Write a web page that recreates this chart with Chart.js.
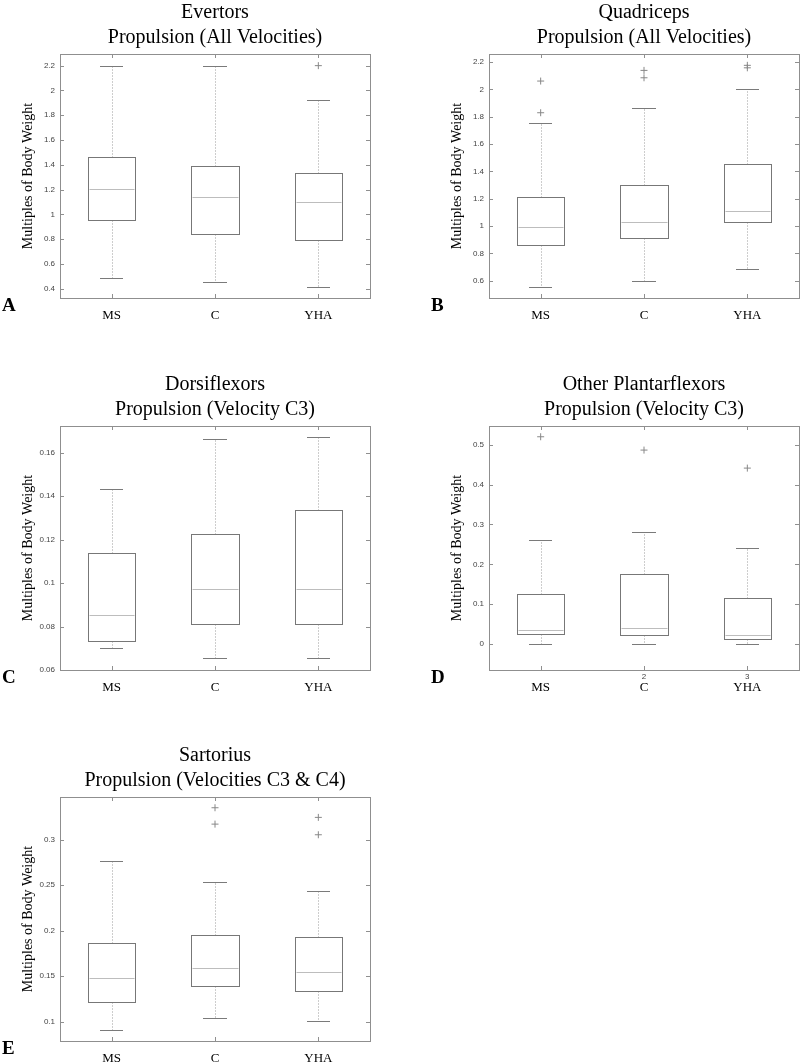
<!DOCTYPE html>
<html>
<head>
<meta charset="utf-8">
<script src="https://cdn.jsdelivr.net/npm/chart.js@4.4.0/dist/chart.umd.min.js"></script>
<style>
  html, body { margin: 0; padding: 0; background: #fff; overflow: hidden; }
  body { width: 800px; height: 1064px; position: relative; }
  canvas { position: absolute; }
</style>
</head>
<body>
<canvas id="chartA" width="400" height="330" style="left:0;top:0"></canvas>
<canvas id="chartB" width="371" height="330" style="left:429px;top:0"></canvas>
<canvas id="chartC" width="400" height="330" style="left:0;top:372px"></canvas>
<canvas id="chartD" width="371" height="330" style="left:429px;top:372px"></canvas>
<canvas id="chartE" width="400" height="330" style="left:0;top:743px"></canvas>
<script>
var groups = ["MS", "C", "YHA"];
var yAxisLabel = "Multiples of Body Weight";

// A - Evertors
var evertorsTitle = ["Evertors", "Propulsion (All Velocities)"];
var evertorsLow = [0.485, 0.458, 0.413];
var evertorsQ1 = [0.956, 0.843, 0.794];
var evertorsMedian = [1.208, 1.144, 1.103];
var evertorsQ3 = [1.461, 1.391, 1.337];
var evertorsHigh = [2.2, 2.198, 1.923];
var evertorsOutliers = [[], [], [2.2]];
var evertorsTicks = [0.4, 0.6, 0.8, 1, 1.2, 1.4, 1.6, 1.8, 2, 2.2];

// B - Quadriceps
var quadTitle = ["Quadriceps", "Propulsion (All Velocities)"];
var quadLow = [0.552, 0.6, 0.683];
var quadQ1 = [0.859, 0.913, 1.027];
var quadMedian = [0.991, 1.027, 1.108];
var quadQ3 = [1.215, 1.298, 1.452];
var quadHigh = [1.756, 1.861, 2.0];
var quadOutliers = [[2.061, 1.829], [2.139, 2.085], [2.176, 2.158]];
var quadTicks = [0.6, 0.8, 1, 1.2, 1.4, 1.6, 1.8, 2, 2.2];

// C - Dorsiflexors
var dorsiTitle = ["Dorsiflexors", "Propulsion (Velocity C3)"];
var dorsiLow = [0.0699, 0.0655, 0.0655];
var dorsiQ1 = [0.0732, 0.0811, 0.0811];
var dorsiMedian = [0.0854, 0.0972, 0.0972];
var dorsiQ3 = [0.114, 0.1227, 0.1337];
var dorsiHigh = [0.1433, 0.166, 0.1672];
var dorsiOutliers = [[], [], []];
var dorsiTicks = [0.06, 0.08, 0.1, 0.12, 0.14, 0.16];

// D - Other Plantarflexors
var plantarTitle = ["Other Plantarflexors", "Propulsion (Velocity C3)"];
var plantarLow = [0, 0, 0];
var plantarQ1 = [0.0243, 0.0226, 0.0117];
var plantarMedian = [0.035, 0.0393, 0.0226];
var plantarQ3 = [0.1247, 0.1748, 0.1146];
var plantarHigh = [0.26, 0.2817, 0.2416];
var plantarOutliers = [[0.52], [0.4866], [0.4414]];
var plantarTicks = [0, 0.1, 0.2, 0.3, 0.4, 0.5];
var plantarExtraTicks = ["", "2", "3"];

// E - Sartorius
var sartTitle = ["Sartorius", "Propulsion (Velocities C3 & C4)"];
var sartLow = [0.0905, 0.1044, 0.1004];
var sartQ1 = [0.122, 0.1396, 0.134];
var sartMedian = [0.1483, 0.1586, 0.1549];
var sartQ3 = [0.1864, 0.1956, 0.1934];
var sartHigh = [0.2762, 0.2532, 0.244];
var sartOutliers = [[], [0.3352, 0.3172], [0.3246, 0.3055]];
var sartTicks = [0.1, 0.15, 0.2, 0.25, 0.3];

const SERIF = "'Liberation Serif', 'Times New Roman', serif";
const SANS = "'Liberation Sans', Arial, sans-serif";

function px(v) { return Math.round(v) + 0.5; }

// draws frame, inner ticks, boxes and whiskers using the chart scales
const boxPlot = {
  id: 'boxPlot',
  beforeDatasetsDraw(chart, args, o) {
    const ctx = chart.ctx;
    const xs = chart.scales.x, ys = chart.scales.y;
    const a = chart.chartArea;
    ctx.save();
    ctx.lineWidth = 1;

    // frame
    ctx.strokeStyle = '#8f8f8f';
    ctx.strokeRect(px(a.left), px(a.top), Math.round(a.right - a.left), Math.round(a.bottom - a.top));

    // inner tick marks (matlab style)
    ctx.beginPath();
    ys.ticks.forEach(t => {
      const y = px(ys.getPixelForValue(t.value));
      ctx.moveTo(a.left, y); ctx.lineTo(a.left + 4, y);
      ctx.moveTo(a.right - 4, y); ctx.lineTo(a.right, y);
    });
    xs.ticks.forEach(t => {
      const x = px(xs.getPixelForValue(t.value));
      ctx.moveTo(x, a.bottom); ctx.lineTo(x, a.bottom - 4);
      ctx.moveTo(x, a.top); ctx.lineTo(x, a.top + 4);
    });
    ctx.stroke();

    for (let i = 0; i < groups.length; i++) {
      const xc = xs.getPixelForValue(i + 1);
      const hb = xs.getPixelForValue(i + 1 + 0.23) - xc;
      const hc = xs.getPixelForValue(i + 1 + 0.113) - xc;
      const yLow = px(ys.getPixelForValue(o.low[i]));
      const yQ1 = px(ys.getPixelForValue(o.q1[i]));
      const yMed = px(ys.getPixelForValue(o.median[i]));
      const yQ3 = px(ys.getPixelForValue(o.q3[i]));
      const yHigh = px(ys.getPixelForValue(o.high[i]));
      const xm = px(xc);

      // whiskers
      ctx.strokeStyle = '#9a9a9a';
      ctx.setLineDash([1, 2]);
      ctx.beginPath();
      ctx.moveTo(xm, yQ3); ctx.lineTo(xm, yHigh);
      ctx.moveTo(xm, yQ1); ctx.lineTo(xm, yLow);
      ctx.stroke();
      ctx.setLineDash([]);

      // caps
      ctx.strokeStyle = '#7a7a7a';
      ctx.beginPath();
      ctx.moveTo(Math.round(xc - hc), yHigh); ctx.lineTo(Math.round(xc + hc), yHigh);
      ctx.moveTo(Math.round(xc - hc), yLow); ctx.lineTo(Math.round(xc + hc), yLow);
      ctx.stroke();

      // box
      const l = px(xc - hb), r = px(xc + hb);
      ctx.fillStyle = '#fff';
      ctx.fillRect(l, yQ3, r - l, yQ1 - yQ3);
      ctx.strokeStyle = '#777';
      ctx.strokeRect(l, yQ3, r - l, yQ1 - yQ3);

      // median
      ctx.strokeStyle = '#bdbdbd';
      ctx.beginPath();
      ctx.moveTo(l + 1, yMed); ctx.lineTo(r - 1, yMed);
      ctx.stroke();
    }

    // stray tick numbers under the axis
    if (o.extraTicks) {
      ctx.fillStyle = '#444';
      ctx.font = '8px ' + SANS;
      ctx.textAlign = 'center';
      ctx.textBaseline = 'top';
      o.extraTicks.forEach((s, i) => {
        if (s) ctx.fillText(s, xs.getPixelForValue(i + 1), a.bottom + 3);
      });
    }
    ctx.restore();
  },
  afterDraw(chart, args, o) {
    const ctx = chart.ctx;
    ctx.save();
    ctx.fillStyle = '#000';
    ctx.font = 'bold 19px ' + SERIF;
    ctx.textAlign = 'left';
    ctx.textBaseline = 'alphabetic';
    ctx.fillText(o.letter, 2, 311);
    ctx.restore();
  }
};

function makePanel(id, letter, padRight, title, yMin, yMax, yTicks, low, q1, median, q3, high, outliers, extraTicks) {
  const points = [];
  outliers.forEach((vals, i) => vals.forEach(v => points.push({ x: i + 1, y: v })));
  new Chart(id, {
    type: 'scatter',
    data: {
      datasets: [{
        data: points,
        pointStyle: 'cross',
        radius: 3.5,
        borderColor: '#888',
        borderWidth: 1,
        backgroundColor: '#888'
      }]
    },
    options: {
      responsive: false,
      animation: false,
      events: [],
      layout: { autoPadding: false, padding: { top: 0, left: 0, right: padRight, bottom: 0 } },
      plugins: {
        legend: { display: false },
        tooltip: { enabled: false },
        title: {
          display: true,
          text: title,
          fullSize: false,
          color: '#000',
          font: { family: SERIF, size: 20, weight: 'normal', lineHeight: 1.25 },
          padding: { top: 0, bottom: 4 }
        },
        boxPlot: {
          letter: letter, low: low, q1: q1, median: median, q3: q3, high: high,
          extraTicks: extraTicks
        }
      },
      scales: {
        x: {
          type: 'linear',
          min: 0.5,
          max: 3.5,
          afterBuildTicks: axis => { axis.ticks = [1, 2, 3].map(v => ({ value: v })); },
          afterFit: scale => { scale.height = 32; },
          grid: { display: false, drawTicks: false },
          border: { display: false },
          ticks: {
            padding: 10,
            color: '#000',
            font: { family: SERIF, size: 13 },
            maxRotation: 0,
            callback: v => groups[v - 1]
          }
        },
        y: {
          min: yMin,
          max: yMax,
          afterBuildTicks: axis => { axis.ticks = yTicks.map(v => ({ value: v })); },
          afterFit: scale => { scale.width = 60; },
          grid: { display: false, drawTicks: false },
          border: { display: false },
          ticks: {
            padding: 5,
            color: '#444',
            font: { family: SANS, size: 8 },
            callback: v => String(+v.toFixed(4))
          },
          title: {
            display: true,
            text: yAxisLabel,
            color: '#000',
            font: { family: SERIF, size: 14 },
            padding: { top: 20, bottom: 0 }
          }
        }
      }
    },
    plugins: [boxPlot]
  });
}

makePanel('chartA', 'A', 30, evertorsTitle, 0.325, 2.294, evertorsTicks,
  evertorsLow, evertorsQ1, evertorsMedian, evertorsQ3, evertorsHigh, evertorsOutliers);
makePanel('chartB', 'B', 1, quadTitle, 0.473, 2.259, quadTicks,
  quadLow, quadQ1, quadMedian, quadQ3, quadHigh, quadOutliers);
makePanel('chartC', 'C', 30, dorsiTitle, 0.06, 0.1722, dorsiTicks,
  dorsiLow, dorsiQ1, dorsiMedian, dorsiQ3, dorsiHigh, dorsiOutliers);
makePanel('chartD', 'D', 1, plantarTitle, -0.065, 0.547, plantarTicks,
  plantarLow, plantarQ1, plantarMedian, plantarQ3, plantarHigh, plantarOutliers, plantarExtraTicks);
makePanel('chartE', 'E', 30, sartTitle, 0.0788, 0.347, sartTicks,
  sartLow, sartQ1, sartMedian, sartQ3, sartHigh, sartOutliers);
</script>
</body>
</html>
